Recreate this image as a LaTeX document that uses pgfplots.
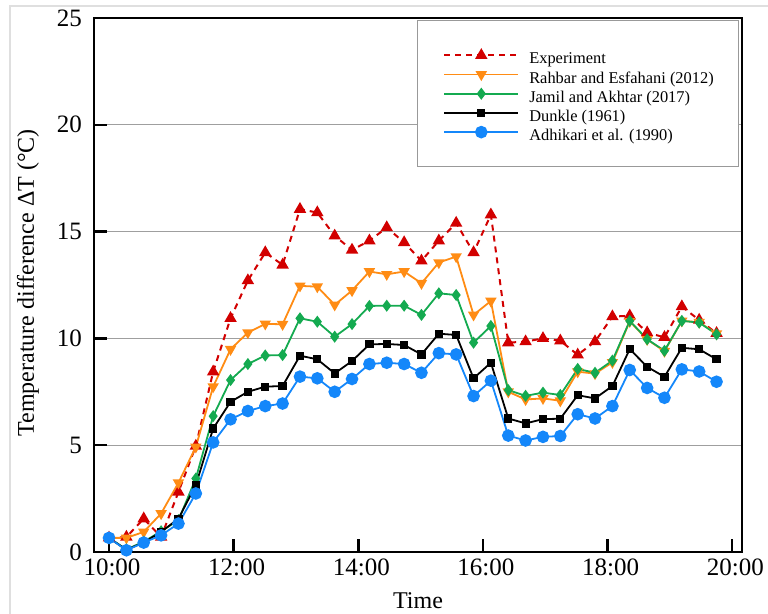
\documentclass[border=0pt]{standalone}
\usepackage{fontspec}
\setmainfont{Liberation Serif}
\usepackage{pgfplots}
\usepackage{pgfplotstable}
\pgfplotsset{compat=1.18}
\definecolor{cexp}{RGB}{210,0,0}
\definecolor{crah}{RGB}{255,140,20}
\definecolor{cjam}{RGB}{20,170,80}
\definecolor{cdun}{RGB}{0,0,0}
\definecolor{cadh}{RGB}{20,135,250}

\pgfplotstableread{
x exp rah jam dun adh
10.000 0.66 0.66 0.66 0.66 0.66
10.279 0.70 0.66 0.12 0.10 0.08
10.557 1.56 0.94 0.48 0.45 0.44
10.836 0.70 1.80 0.97 0.94 0.78
11.114 2.81 3.24 1.49 1.56 1.33
11.393 4.96 4.92 3.44 3.13 2.74
11.671 8.44 7.74 6.36 5.78 5.13
11.950 10.94 9.49 8.05 7.03 6.21
12.228 12.71 10.27 8.80 7.50 6.60
12.507 14.02 10.68 9.20 7.74 6.83
12.785 13.44 10.66 9.22 7.77 6.95
13.064 16.05 12.46 10.94 9.19 8.21
13.342 15.89 12.42 10.78 9.02 8.13
13.621 14.80 11.57 10.08 8.36 7.50
13.899 14.14 12.24 10.67 8.94 8.10
14.178 14.57 13.13 11.52 9.72 8.80
14.456 15.19 13.00 11.53 9.74 8.86
14.735 14.49 13.13 11.53 9.69 8.80
15.013 13.63 12.58 11.10 9.25 8.39
15.292 14.57 13.55 12.11 10.22 9.31
15.570 15.40 13.83 12.03 10.16 9.25
15.849 14.02 11.10 9.80 8.13 7.30
16.127 15.79 11.75 10.58 8.86 8.02
16.406 9.80 7.50 7.58 6.25 5.45
16.684 9.85 7.14 7.31 6.02 5.22
16.963 10.00 7.19 7.46 6.22 5.39
17.241 9.89 7.08 7.35 6.24 5.43
17.520 9.23 8.44 8.57 7.34 6.45
17.798 9.85 8.35 8.39 7.19 6.25
18.077 11.02 8.88 8.96 7.77 6.83
18.355 11.06 10.80 10.82 9.50 8.52
18.634 10.27 9.95 9.96 8.67 7.68
18.912 10.05 9.40 9.42 8.20 7.22
19.191 11.49 10.82 10.82 9.56 8.55
19.469 10.86 10.76 10.74 9.49 8.45
19.748 10.24 10.22 10.19 9.02 7.97
}\data

\begin{document}
\begin{tikzpicture}
\path[use as bounding box] (-47pt,-31pt) rectangle (337pt,276pt);
\draw[gray!25, line width=0.6pt] (-42pt,-31pt) -- (-42pt,273pt) -- (337pt,273pt);
\begin{axis}[at={(0pt,0pt)}, anchor=south west, scale only axis,
  width=324pt, height=267pt,
  xmin=9.759, xmax=20.156, ymin=0, ymax=25,
  xtick={10,12,14,16,18,20},
  xticklabels={10:00,12:00,14:00,16:00,18:00,20:00},
  ytick={0,5,...,25},
  tick align=inside, xtick pos=bottom, ytick pos=left,
  major tick length=6.5pt,
  tick style={line width=1.2pt, black},
  axis line style={line width=1.2pt},
  ymajorgrids, grid style={gray!75, line width=0.6pt},
  ticklabel style={font=\fontsize{12.5}{14}\selectfont},
  yticklabel style={xshift=-2.5pt},
  xticklabel style={xshift=1.5pt},
  /pgf/number format/assume math mode=true,
  xlabel={Time},
  ylabel={Temperature difference ΔT (°C)},
  label style={font=\fontsize{12}{14}\selectfont},
  xlabel style={at={(axis description cs:0.5,-0.092)}, anchor=center},
  ylabel style={at={(axis description cs:-0.102,0.504)}, anchor=center},
  legend cell align=left,
  legend style={at={(0.498,0.996)}, anchor=north west, draw=gray!80,
    line width=0.6pt, font=\fontsize{8.2}{9}\selectfont,
    inner xsep=12pt, inner ysep=12.5pt, row sep=0pt,
    nodes={inner xsep=0.5pt, inner ysep=0.5pt, text height=8.6pt, text depth=-0.6pt},
    /tikz/every odd column/.append style={column sep=4.5pt}},
  legend image code/.code={\path (0pt,0pt);
    \draw[mark repeat=2,mark phase=2]
    plot coordinates {(1pt,0pt) (19.5pt,0pt) (38pt,0pt)};},
]
\addplot[color=cexp, line width=1pt, dash pattern=on 3pt off 2.5pt,
  mark=triangle*, mark size=2.6pt, mark options={solid}] table[x=x,y=exp]{\data};
\addlegendentry{Experiment}
\addplot[color=crah, line width=0.9pt, mark=triangle*, mark size=2.4pt,
  every mark/.append style={rotate=180}] table[x=x,y=rah]{\data};
\addlegendentry{Rahbar and Esfahani (2012)}
\addplot[color=cjam, line width=0.9pt, mark=diamond*, mark size=2.3pt] table[x=x,y=jam]{\data};
\addlegendentry{Jamil and Akhtar (2017)}
\addplot[color=cdun, line width=0.9pt, mark=square*, mark size=1.6pt] table[x=x,y=dun]{\data};
\addlegendentry{Dunkle (1961)}
\addplot[color=cadh, line width=0.9pt, mark=*, mark size=2.7pt] table[x=x,y=adh]{\data};
\addlegendentry{Adhikari et al. (1990)}
\end{axis}
\end{tikzpicture}
\end{document}
